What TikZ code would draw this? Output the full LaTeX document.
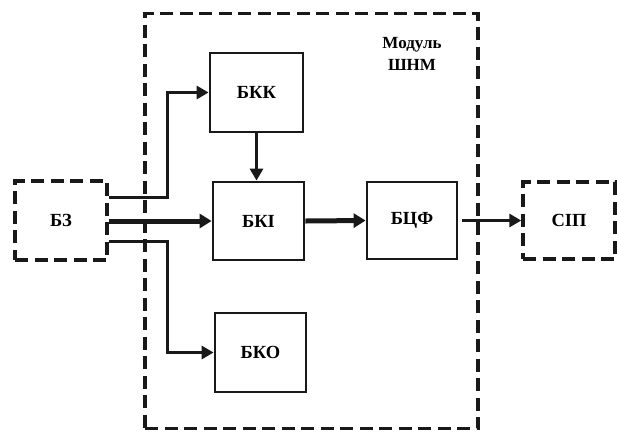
\documentclass[tikz,border=0pt]{standalone}
\usepackage{fontspec}
\setmainfont{Liberation Serif}
\usetikzlibrary{arrows.meta}
\tikzset{
  blk/.style={draw=black!90, line width=2.8pt, rectangle, inner sep=0pt, font=\fontsize{18.5}{20}\selectfont\bfseries},
  dblk/.style={blk, dash pattern=on 13pt off 6.5pt, line width=3.4pt},
  thinarr/.style={draw=black!90, line width=3pt, -{Triangle[length=12pt,width=13pt]}},
  thickarr/.style={draw=black!90, line width=5pt, -{Triangle[length=12pt,width=14pt]}},
}
\begin{document}
\begin{tikzpicture}[x=1pt,y=-1pt]
\useasboundingbox (0,0) rectangle (617,432);
\node[dblk, minimum width=333pt, minimum height=415pt] (mod) at (311.5,221) {};
\node[dblk, minimum width=92pt, minimum height=79pt] (bz) at (61,220.5) {БЗ};
\node[dblk, minimum width=92pt, minimum height=77pt] (sip) at (569,220.5) {СІП};
\node[blk, minimum width=93pt, minimum height=79pt] (bkk) at (256.5,92.5) {БКК};
\node[blk, minimum width=91pt, minimum height=78pt] (bki) at (258.5,221) {БКІ};
\node[blk, minimum width=91pt, minimum height=79pt] (bko) at (260.5,352.5) {БКО};
\node[blk, minimum width=90pt, minimum height=77pt] (bcf) at (412,220.5) {БЦФ};
\node[font=\fontsize{17}{22}\selectfont\bfseries, align=center] (lbl) at (412,54) {Модуль\\ШНМ};
\coordinate (j1) at (167,197);
\coordinate (j2) at (167,241);
\draw[thinarr] ([yshift=23.5pt]bz.east) -- (j1) |- (bkk.west);
\draw[thickarr] (bz.east |- bki.west) -- (bki.west);
\draw[thinarr] ([yshift=-20.5pt]bz.east) -- (j2) |- (bko.west);
\draw[thinarr] (bkk.south) -- (bkk.south |- bki.north);
\draw[thickarr] (bki.east) -- (bcf.west);
\draw[thinarr] ([xshift=4pt]bcf.east) -- (sip.west);
\end{tikzpicture}
\end{document}
